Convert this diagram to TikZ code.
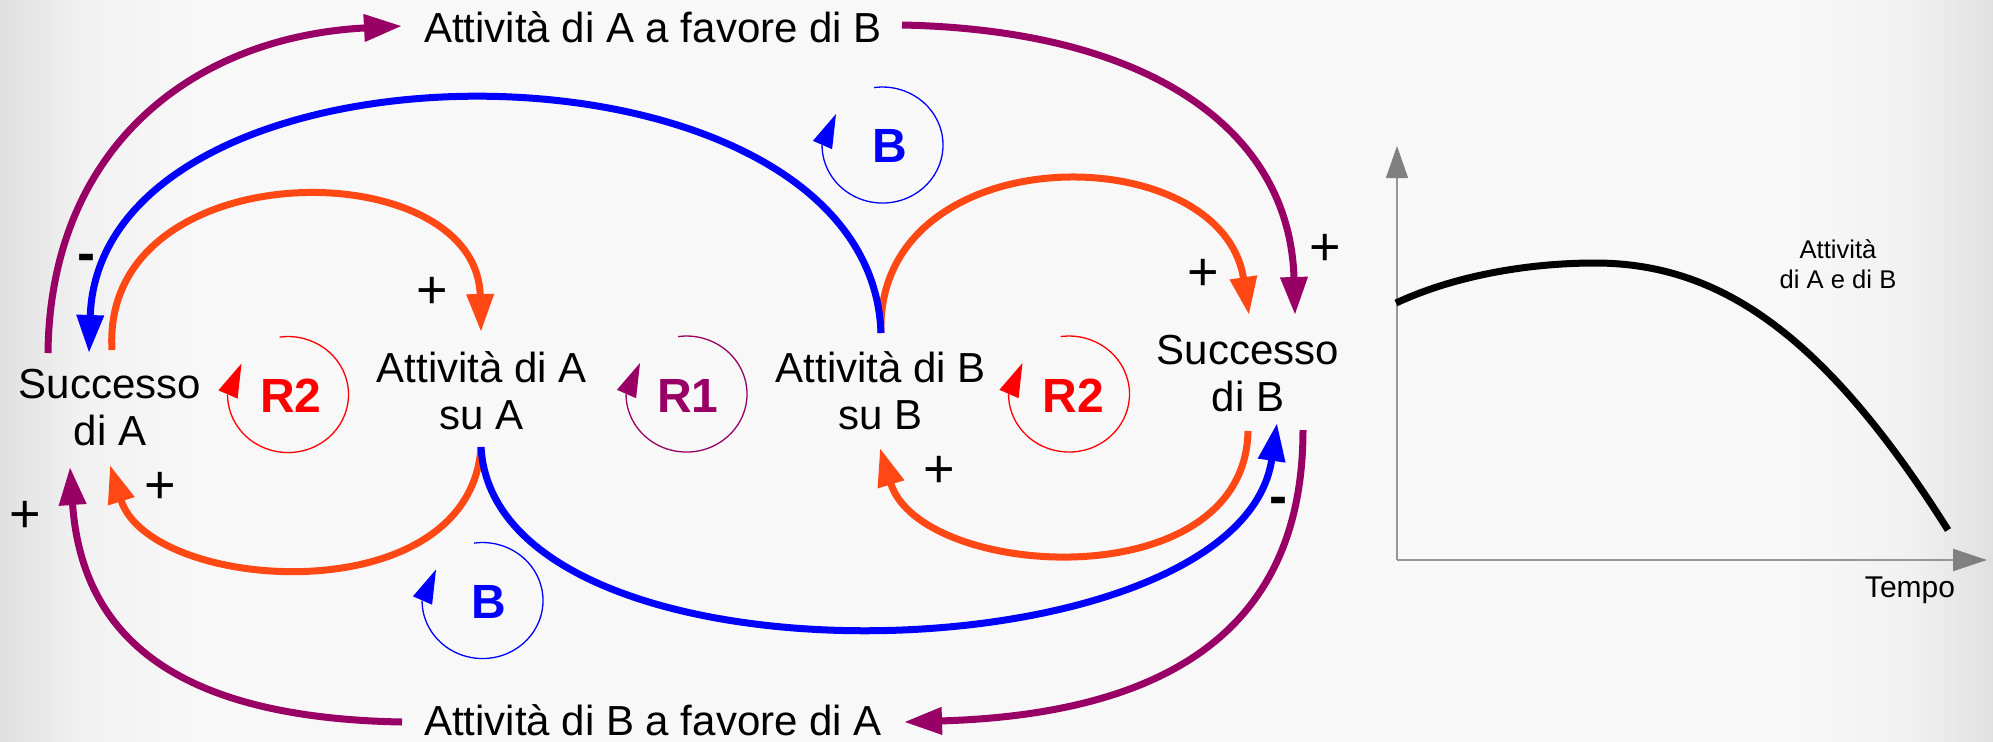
\documentclass[tikz,border=0pt]{standalone}
\usepackage{fontspec}
\setmainfont{Liberation Sans}
\usetikzlibrary{arrows.meta}
\definecolor{cpurple}{RGB}{153,0,102}
\definecolor{corange}{RGB}{255,72,20}
\definecolor{cblue}{RGB}{0,0,255}
\definecolor{cred}{RGB}{255,0,0}
\definecolor{caxis}{RGB}{150,150,150}
\definecolor{caxtip}{RGB}{128,128,128}
\definecolor{bgedge}{RGB}{224,224,224}
\definecolor{bgsoft}{RGB}{241,241,241}
\definecolor{bgmid}{RGB}{248,248,248}
\pgfdeclarehorizontalshading{bgshade}{100bp}{color(0bp)=(bgedge); color(25bp)=(bgedge); color(27bp)=(bgsoft); color(30bp)=(bgmid); color(70bp)=(bgmid); color(73bp)=(bgsoft); color(75bp)=(bgedge); color(100bp)=(bgedge)}
\newcommand\ns{\vrule width 0pt height 0.8em depth 0.25em\relax}
% #1 name, #2 cx, #3 cy (screen px), #4 colour, #5 text, #6 text x, #7 text y
\newcommand\loopsym[7]{%
  \draw[looparc,#4] (#2-8.4,-#3+57.4) arc[start angle=98,end angle=-180,x radius=60.5,y radius=58];
  \fill[#4] (#2-46.5,-#3+31) -- (#2-69.6,-#3+4.2) -- (#2-50.4,-#3-4.2) -- cycle;
  \node[looplbl,text=#4] (#1) at (#6,-#7) {#5};
}
\tikzset{
  lbl/.style={inner sep=0pt,align=center,font=\fontsize{21}{23.5}\selectfont},
  toplbl/.style={inner sep=0pt,anchor=base,font=\fontsize{21}{23.5}\selectfont},
  sign/.style={inner sep=0pt,font=\fontsize{27}{30}\selectfont},
  msign/.style={inner sep=0pt,font=\fontsize{27}{30}\selectfont\bfseries},
  looplbl/.style={inner sep=0pt,font=\fontsize{24}{28}\selectfont\bfseries},
  looparc/.style={line width=0.65pt},
  link/.style={line width=3.5pt,-{Triangle[length=19pt,width=13pt]}},
  axisline/.style={caxis},
}
\begin{document}
\begin{tikzpicture}[x=0.5pt,y=0.5pt]
\useasboundingbox (0,0) rectangle (1993,-741);
\shade[shading=bgshade] (0,0) rectangle (1993,-741);

% text nodes
\node[toplbl] (fAB) at (653,-42) {Attività di A a favore di B};
\node[toplbl] (fBA) at (653,-735) {Attività di B a favore di A};
\node[lbl] (sA) at (110,-410) {\ns Successo\\\ns di A};
\node[lbl] (aA) at (482,-394) {\ns Attività di A\\\ns su A};
\node[lbl] (aB) at (881,-394) {\ns Attività di B\\\ns su B};
\node[lbl] (sB) at (1248,-376) {\ns Successo\\\ns di B};

% connector end points
\coordinate (sAtopP) at (48,-353);
\coordinate (sAtopB) at (89,-353);
\coordinate (sAtopO) at (112,-350);
\coordinate (sAbotP) at (70,-467);
\coordinate (sAbotO) at (110,-465);
\coordinate (aAtop) at (481,-332);
\coordinate (aAbot) at (481,-447);
\coordinate (aBtop) at (881,-333);
\coordinate (aBbot) at (880,-448);
\coordinate (sBtopO) at (1249,-315);
\coordinate (sBtopP) at (1295,-315);
\coordinate (sBbotO) at (1248,-431);
\coordinate (sBbotB) at (1277,-423);
\coordinate (sBbotP) at (1303,-430);
\coordinate (fABin) at (402,-26);
\coordinate (fABout) at (902,-25);
\coordinate (fBAin) at (904,-722);
\coordinate (fBAout) at (402,-722);

% connectors
\draw[link,cpurple] (sAtopP) .. controls (50,-150) and (190,-37) .. (fABin);
\draw[link,cpurple] (fABout) .. controls (1150,-30) and (1290,-130) .. (sBtopP);
\draw[link,cpurple] (sBbotP) .. controls (1303,-620) and (1180,-714) .. (fBAin);
\draw[link,cpurple] (fBAout) .. controls (180,-718) and (82,-640) .. (sAbotP);
\draw[link,corange] (sAtopO) .. controls (100,-150) and (477,-150) .. (aAtop);
\draw[link,corange] (aBtop) .. controls (875,-135) and (1222,-135) .. (sBtopO);
\draw[link,cblue] (aBtop) .. controls (870,-20) and (100,-20) .. (sAtopB);
\draw[link,corange] (aAbot) .. controls (470,-615) and (150,-593) .. (sAbotO);
\draw[link,cblue] (aAbot) .. controls (495,-700) and (1240,-680) .. (sBbotB);
\draw[link,corange] (sBbotO) .. controls (1245,-600) and (920,-580) .. (aBbot);

% loop symbols
\loopsym{loopRa}{288}{394.5}{cred}{R2}{291}{396}
\loopsym{loopRone}{686.5}{394}{cpurple}{R1}{688}{396}
\loopsym{loopRb}{1069}{394}{cred}{R2}{1073.5}{395.5}
\loopsym{loopBt}{882.5}{145}{cblue}{B}{890}{146}
\loopsym{loopBb}{482.5}{600.5}{cblue}{B}{488.5}{602}

% polarity signs
\node[sign] (p1) at (432,-293) {+};
\node[sign] (p2) at (1203,-275) {+};
\node[sign] (p3) at (1325,-250) {+};
\node[sign] (p4) at (25,-517) {+};
\node[sign] (p5) at (160,-488) {+};
\node[sign] (p6) at (939,-472) {+};
\node[msign] (m1) at (86,-263) {-};
\node[msign] (m2) at (1278,-506) {-};

% graph
\coordinate (org) at (1397,-560);
\coordinate (yend) at (1397,-146);
\coordinate (xend) at (1987,-560);
\draw[axisline,line width=0.6pt,-{Triangle[length=16pt,width=11pt,color=caxtip]}] (org) -- (yend);
\draw[axisline,line width=1pt,-{Triangle[length=17pt,width=11pt,color=caxtip]}] (org) -- (xend);
\draw[line width=3.5pt] (1396,-303) .. controls (1456,-275) and (1530,-263) .. (1595,-263)
  .. controls (1720,-263) and (1825,-335) .. (1948,-530);
\node[inner sep=0pt,align=center,font=\fontsize{12.8}{15}\selectfont] (glabel) at (1838,-266) {\ns Attività\\\ns di A e di B};
\node[inner sep=0pt,anchor=base,font=\fontsize{15}{18}\selectfont] (tempo) at (1910,-597) {Tempo};
\end{tikzpicture}
\end{document}
